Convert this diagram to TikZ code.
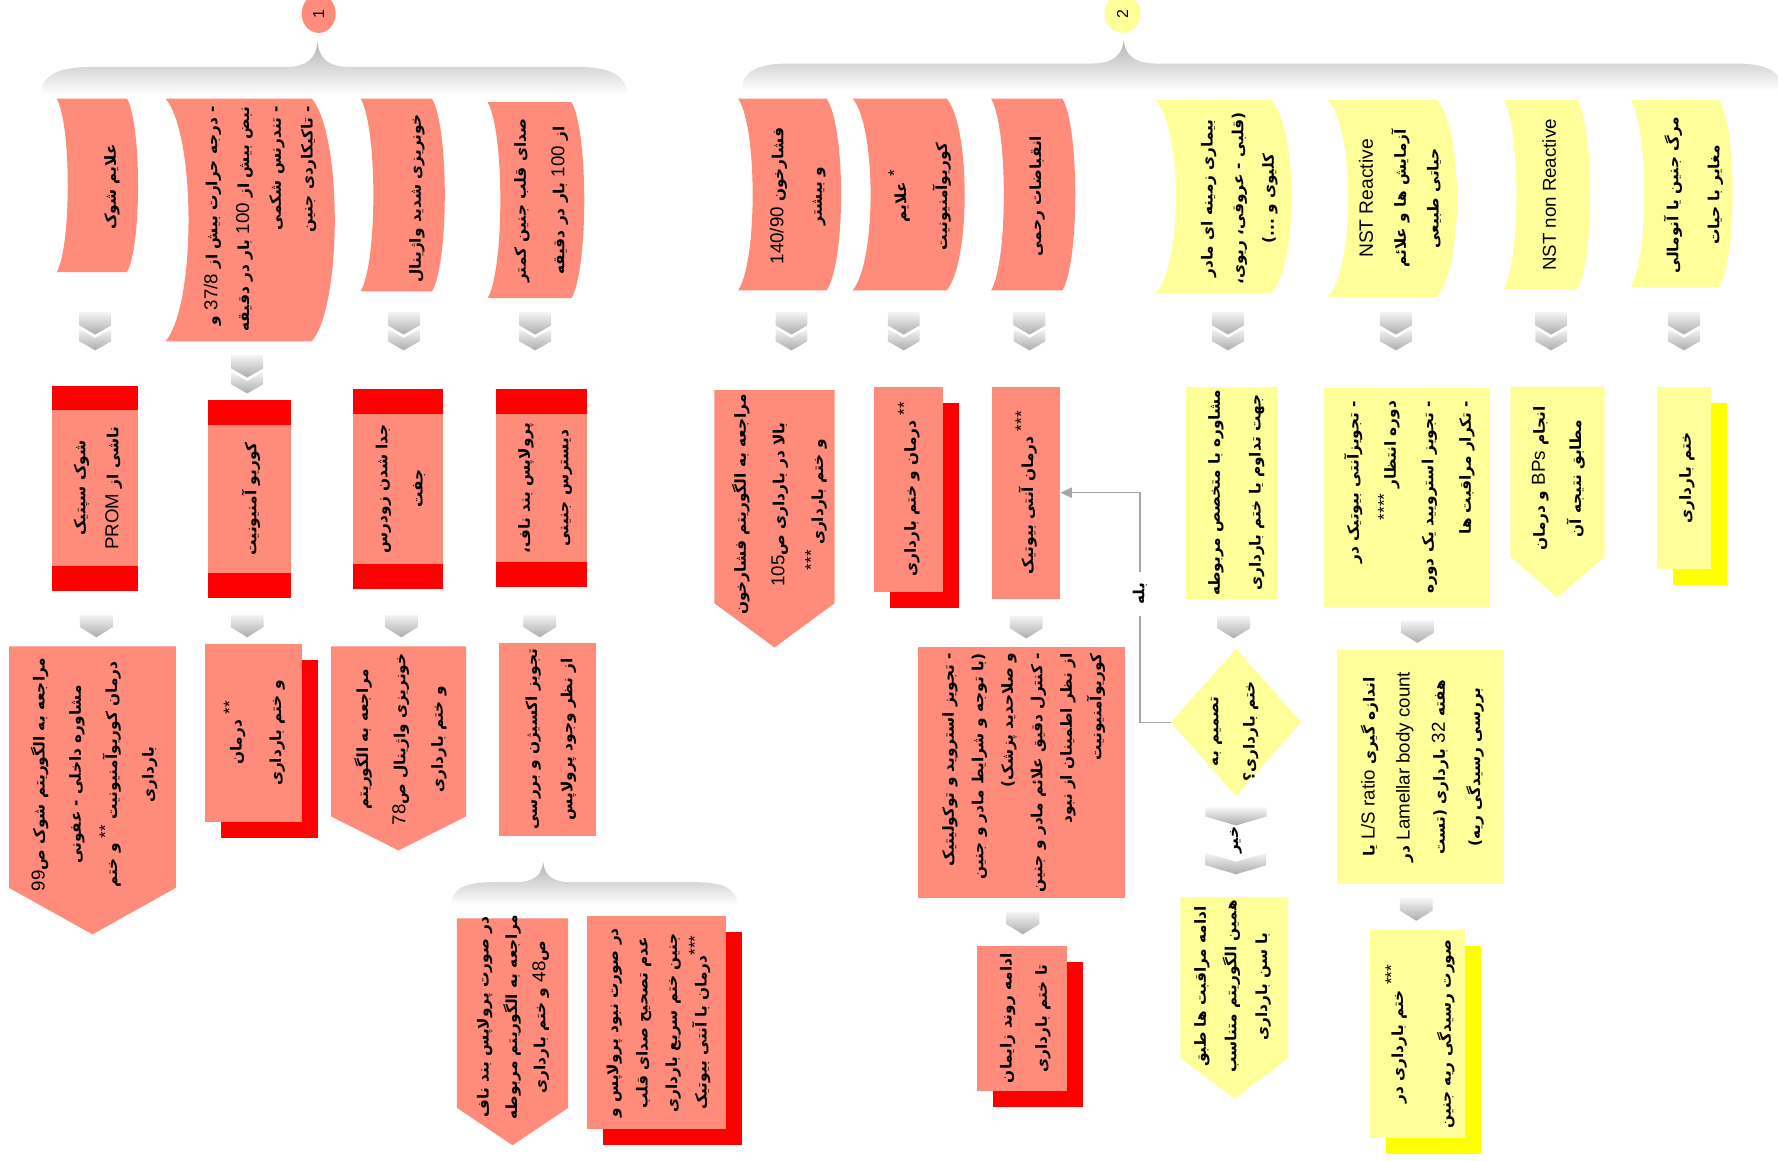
\documentclass[tikz,border=0pt]{standalone}
\usepackage{fontspec}
\usepackage{graphicx}
\usetikzlibrary{shapes.geometric,shadows,arrows.meta}
\newfontfamily\fa[Script=Arabic]{DejaVu Sans}
\newfontfamily\en{Liberation Sans}
\TeXXeTstate=1
\definecolor{salmon}{HTML}{FF8C7A}
\definecolor{lemon}{HTML}{FFFF99}
\definecolor{lemondark}{HTML}{FFFF00}
\newcommand\rl[1]{\beginR#1\endR}
\newcommand\lat[1]{\beginL{\en\mdseries\fontsize{16.5}{20}\selectfont#1}\endL{}}
\newcommand\stars[1]{\raisebox{.4em}{\en\mdseries\fontsize{15}{15}\selectfont#1}}
\newcommand\vtext[2][c]{\rotatebox{90}{\begin{tabular}{@{}#1@{}}#2\end{tabular}}}
\newcommand\wave[6]{\fill[#6] (#1,#3) -- (#2,#3) .. controls ({#2+#5},{#3+0.15*(#4-#3)}) and ({#2+#5},{#4-0.15*(#4-#3)}) .. (#2,#4) -- (#1,#4) .. controls ({#1+#5},{#4-0.15*(#4-#3)}) and ({#1+#5},{#3+0.15*(#4-#3)}) .. (#1,#3) -- cycle;}
\newcommand\penta[6]{\fill[#6] (#1,#3) -- (#2,#3) -- (#2,#4) -- ({(#1+#2)/2},#5) -- (#1,#4) -- cycle;}
\newcommand\chev[2]{\shade[chevshade] ({#1-14.5},#2) -- ({#1+14.5},#2) -- ({#1+14.5},{#2+11}) -- (#1,{#2+20}) -- ({#1-14.5},{#2+11}) -- cycle;}
\newcommand\dchev[2]{\shade[chevshade] ({#1-14},#2) -- ({#1+14},#2) -- ({#1+14},{#2+12}) -- (#1,{#2+20}) -- ({#1-14},{#2+12}) -- cycle;
  \shade[chevshade] ({#1-14},{#2+15}) -- (#1,{#2+23}) -- ({#1+14},{#2+15}) -- ({#1+14},{#2+26}) -- (#1,{#2+34}) -- ({#1-14},{#2+26}) -- cycle;}

\begin{document}
\begin{tikzpicture}[x=1pt,y=-1pt,
        txt/.style={inner sep=0pt, font=\fa\bfseries\fontsize{13.5}{31}\selectfont},
        ls/.style={font=\fa\bfseries\fontsize{13.5}{#1}\selectfont},
        sbox/.style={txt, fill=salmon},
        ybox/.style={txt, fill=lemon},
        band/.style={sbox, path picture={
            \fill[red] (path picture bounding box.north west) rectangle ([yshift=-22pt]path picture bounding box.north east);
            \fill[red] (path picture bounding box.south west) rectangle ([yshift=22pt]path picture bounding box.south east);}},
        rsh/.style={drop shadow={shadow xshift=14pt, shadow yshift=-14pt, fill=red, opacity=1}},
        ysh/.style={drop shadow={shadow xshift=14pt, shadow yshift=-14pt, fill=lemondark, opacity=1}},
        chevshade/.style={top color=gray!8, bottom color=gray!65},
        braceshade/.style={top color=gray!60, bottom color=white},
        conn/.style={draw=gray!70, line width=1.3pt, -{Triangle[length=10pt,width=9pt]}}]

    \useasboundingbox (0,0) rectangle (1568,1023);

    \shade[braceshade] (36,84) .. controls (36,66) and (52,59) .. (80,59) -- (252,59) .. controls (270,59) and (279,52) .. (280,36) .. controls (281,52) and (290,59) .. (308,59) -- (509,59) .. controls (537,59) and (553,66) .. (553,84) -- cycle;
    \shade[braceshade] (654,80) .. controls (654,63) and (668,56) .. (696,56) -- (963,56) .. controls (981,56) and (990,49) .. (991,35) .. controls (992,49) and (1001,56) .. (1019,56) -- (1530,56) .. controls (1558,56) and (1572,63) .. (1572,80) -- cycle;
    \shade[braceshade] (398,798) .. controls (398,784) and (410,778) .. (434,778) -- (455,778) .. controls (470,778) and (478,772) .. (479,760) .. controls (480,772) and (488,778) .. (503,778) -- (614,778) .. controls (638,778) and (650,784) .. (650,798) -- cycle;

    \node[ellipse, fill=salmon, minimum width=30, minimum height=34, inner sep=0pt] (n1) at (281,12) {\rotatebox{90}{\en\fontsize{14}{14}\selectfont 1}};
    \node[ellipse, fill=lemon, minimum width=32, minimum height=34, inner sep=0pt] (n2) at (990,12) {\rotatebox{90}{\en\fontsize{14}{14}\selectfont 2}};

    \wave{50}{112}{87}{240}{13}{salmon}
    \wave{146}{275}{87}{301}{27}{salmon}
    \wave{318}{381}{87}{257}{15}{salmon}
    \wave{430}{504}{90}{263}{15}{salmon}
    \wave{651}{729}{87}{256}{17}{salmon}
    \wave{752}{835}{87}{256}{21}{salmon}
    \wave{874}{937}{87}{256}{15}{salmon}
    \wave{1019}{1121}{88}{259}{24}{lemon}
    \wave{1171}{1267}{88}{262}{24}{lemon}
    \wave{1326}{1391}{88}{255}{15}{lemon}
    \wave{1438}{1516}{88}{253}{16}{lemon}

    \node[txt] (b1) at (96,165) {\vtext{\rl{علایم شوک}}};
    \node[txt, ls=28] (b2) at (228,193) {\vtext[r]{\rl{- درجه حرارت بیش از \lat{37/8} و}\\ \rl{نبض بیش از \lat{100} بار در دقیقه}\\ \rl{- تندرنس شکمی}\\ \rl{- تاکیکاردی جنین}}};
    \node[txt] (b3) at (365,175) {\vtext{\rl{خونریزی شدید واژینال}}};
    \node[txt, ls=34] (b4) at (474,177) {\vtext{\rl{صدای قلب جنین کمتر}\\ \rl{از \lat{100} بار در دقیقه}}};
    \node[txt, ls=34] (c1) at (701,173) {\vtext{\rl{فشارخون \lat{140/90}}\\ \rl{و بیشتر}}};
    \node[txt, ls=36] (c2) at (810,173) {\vtext{\rl{\stars{*} علایم}\\ \rl{کوریوآمنیونیت}}};
    \node[txt] (c3) at (912,173) {\vtext{\rl{انقباضات رحمی}}};
    \node[txt, ls=27] (y1) at (1091,175) {\vtext{\rl{بیماری زمینه ای مادر}\\ \rl{(قلبی - عروقی، ریوی،}\\ \rl{کلیوی و ...)}}};
    \node[txt, ls=29] (y2) at (1234,175) {\vtext{{\en\mdseries\fontsize{17}{20}\selectfont NST Reactive}\\ \rl{آزمایش ها و علائم}\\ \rl{حیاتی طبیعی}}};
    \node[txt] (y3) at (1366,172) {\vtext{{\en\mdseries\fontsize{16.5}{20}\selectfont NST non Reactive}}};
    \node[txt, ls=36] (y4) at (1491,172) {\vtext{\rl{مرگ جنین یا آنومالی}\\ \rl{مغایر با حیات}}};

    \dchev{84}{275} \dchev{218}{313} \dchev{356}{275} \dchev{472}{275}
    \dchev{698}{275} \dchev{797}{275} \dchev{908}{275}
    \dchev{1083}{275} \dchev{1231}{275} \dchev{1368}{275} \dchev{1485}{275}

    \node[band, ls=29, minimum width=76, minimum height=181] (d1) at (84,430.5) {\vtext{\rl{شوک سپتیک}\\ \rl{ناشی از \lat{PROM}}}};
    \node[band, minimum width=74, minimum height=174] (d2) at (220,440) {\vtext{\rl{کوریو آمنیونیت}}};
    \node[band, minimum width=80, minimum height=176] (d3) at (351,431) {\vtext{\rl{جدا شدن زودرس}\\ \rl{جفت}}};
    \node[band, ls=34, minimum width=81, minimum height=175] (d4) at (477.5,430.5) {\vtext{\rl{پرولاپس بند ناف،}\\ \rl{دیسترس جنینی}}};

    \penta{630}{736}{344}{532}{571}{salmon}
    \node[txt, ls=34] (g1) at (685,445) {\vtext{\rl{مراجعه به الگوریتم فشارخون}\\ \rl{بالا در بارداری ص\lat{105}}\\ \rl{و ختم بارداری \stars{***}}}};
    \node[sbox, rsh, minimum width=61, minimum height=181] (g2) at (801.5,431.5) {\vtext{\rl{\stars{**} درمان و ختم بارداری}}};
    \node[sbox, minimum width=60, minimum height=187] (g3) at (905,434.5) {\vtext{\rl{\stars{***} درمان آنتی بیوتیک}}};
    \node[ybox, ls=36, minimum width=81, minimum height=187] (h1) at (1086.5,434.5) {\vtext{\rl{مشاوره با متخصص مربوطه}\\ \rl{جهت تداوم یا ختم بارداری}}};
    \node[ybox, ls=33, minimum width=146, minimum height=193] (h2) at (1241,438.5) {\vtext[r]{\rl{- تجویزآنتی بیوتیک در}\\ \rl{دوره انتظار \stars{****}}\\ \rl{- تجویز استرویید  یک دوره}\\ \rl{- تکرار مراقبت ها}}};
    \penta{1332}{1415}{341}{491}{527}{lemon}
    \node[txt, ls=32] (h3) at (1372,422) {\vtext{\rl{انجام \lat{BPs} و درمان}\\ \rl{مطابق نتیجه آن}}};
    \node[ybox, ysh, minimum width=48, minimum height=161] (h4) at (1485,421.5) {\vtext{\rl{ختم بارداری}}};

    \chev{85}{542} \chev{218}{542} \chev{354}{542} \chev{476}{542}
    \chev{905}{543} \chev{1088}{543} \chev{1250}{547}

    \penta{8}{155}{570}{783}{824}{salmon}
    \node[txt, ls=32] (e1) at (81,683) {\vtext{\rl{مراجعه به الگوریتم شوک ص\lat{99}}\\ \rl{مشاوره داخلی - عفونی}\\ \rl{درمان کوریوآمنیونیت \stars{**} و ختم}\\ \rl{بارداری}}};
    \node[sbox, rsh, ls=35, minimum width=85, minimum height=157] (e2) at (223.5,646.5) {\vtext{\rl{\stars{**} درمان}\\ \rl{و ختم بارداری}}};
    \penta{292}{411}{570}{720}{750}{salmon}
    \node[txt, ls=33] (e3) at (351,652) {\vtext{\rl{مراجعه به الگوریتم}\\ \rl{خونریزی واژینال ص\lat{78}}\\ \rl{و ختم بارداری}}};
    \node[sbox, minimum width=86, minimum height=170] (e4) at (483,652) {\vtext{\rl{تجویز اکسیژن و بررسی}\\ \rl{از نظر وجود پرولاپس}}};

    \penta{403}{501}{810}{977}{1010}{salmon}
    \node[txt, ls=25] (f1) at (451,897) {\vtext{\rl{در صورت پرولاپس بند ناف}\\ \rl{مراجعه به الگوریتم مربوطه}\\ \rl{ص\lat{48} و ختم بارداری}}};
    \node[sbox, rsh, ls=26, minimum width=122, minimum height=188] (f2) at (579,902) {\vtext{\rl{در صورت نبود پرولاپس و}\\ \rl{عدم تصحیح صدای قلب}\\ \rl{جنین ختم سریع بارداری}\\ \rl{\stars{***}درمان با آنتی بیوتیک}}};

    \node[sbox, ls=26, minimum width=182, minimum height=221] (g4) at (901,681.5) {\vtext[r]{\rl{- تجویز استروید و توکولیتیک}\\ \rl{(با توجه و شرایط مادر و جنین}\\ \rl{و صلاحدید پزشک)}\\ \rl{- کنترل دقیق علائم مادر و جنین}\\ \rl{از نظر اطمینان از نبود}\\ \rl{کوریوآمنیونیت}}};
    \node[diamond, fill=lemon, minimum width=115, minimum height=130, inner sep=0pt] (dec) at (1090,637) {};
    \node[txt, ls=32] (dectext) at (1084,645) {\vtext{\rl{تصمیم به}\\ \rl{ختم بارداری؟}}};
    \node[ybox, minimum width=147, minimum height=207] (h6) at (1252.5,676.5) {\vtext{\rl{اندازه گیری \lat{L/S ratio} یا}\\ \rl{\lat{Lamellar body count} در}\\ \rl{هفته \lat{32} بارداری (تست}\\ \rl{بررسی رسیدگی ریه)}}};

    \draw[conn] (dec.west) -- ++(-27,0) |- node[txt, pos=0.28, fill=white, inner xsep=2pt, inner ysep=10pt] (yes) {\rotatebox{90}{\rl{بله}}} (g3.east);

    \shade[chevshade] (1063,712) -- (1117,712) -- (1117,720) -- (1090,728) -- (1063,720) -- cycle;
    \shade[chevshade] (1063,752) -- (1090,760) -- (1117,752) -- (1117,763) -- (1090,771) -- (1063,763) -- cycle;
    \node[txt] (no) at (1090,741) {\rotatebox{90}{\rl{خیر}}};

    \chev{902}{804} \chev{1249}{792}

    \node[sbox, rsh, minimum width=79, minimum height=128] (g5) at (901.5,898) {\vtext{\rl{ادامه روند زایمان}\\ \rl{تا ختم بارداری}}};
    \penta{1041}{1136}{791}{933}{969}{lemon}
    \node[txt, ls=27] (h5) at (1085,870) {\vtext{\rl{ادامه مراقبت ها طبق}\\ \rl{همین الگوریتم متناسب}\\ \rl{با سن بارداری}}};
    \node[ybox, ysh, ls=42, minimum width=80, minimum height=184] (h7) at (1250,912) {\vtext{\rl{\stars{***} ختم بارداری در}\\ \rl{صورت رسیدگی ریه جنین}}};

\end{tikzpicture}
\end{document}
